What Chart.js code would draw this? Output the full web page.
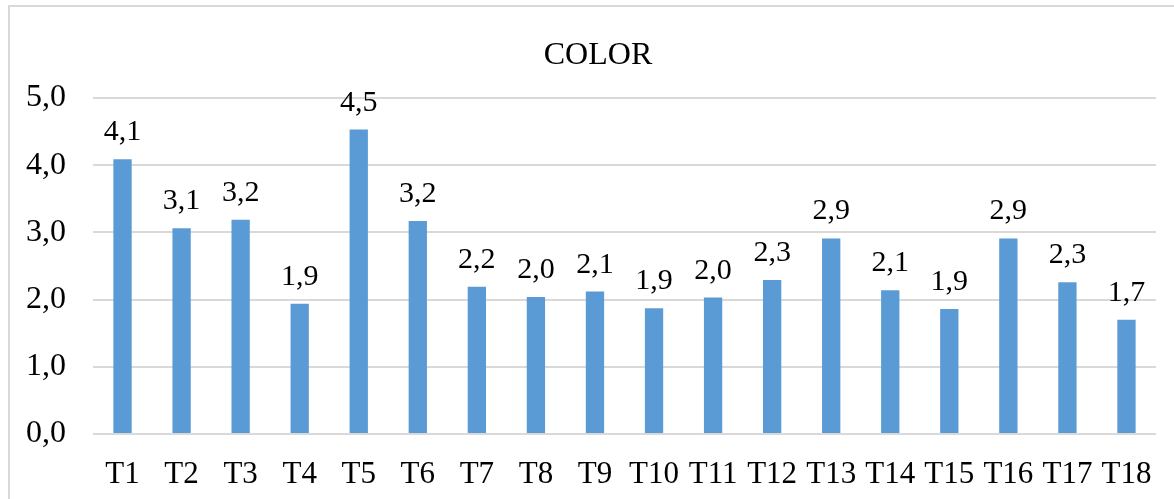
<!DOCTYPE html>
<html>
<head>
<meta charset="utf-8">
<script src="https://cdn.jsdelivr.net/npm/chart.js@4"></script>
<style>
  html, body { margin: 0; padding: 0; background: #fff; overflow: hidden; }
  .frame {
    position: absolute;
    left: 8px;
    top: 5px;
    border: 2px solid #d9d9d9;
    background: #fff;
  }
  canvas { display: block; }
</style>
</head>
<body>
<div class="frame">
  <canvas id="colorChart" width="1176" height="500"></canvas>
</div>
<script>
const FONT_COLOR = "#000000";
const GRID_COLOR = "#d9d9d9";
const BAR_COLOR = "#5b9bd5";
const FONT_FAMILY = "'Liberation Serif', 'Times New Roman', serif";

const chartTitle = "COLOR";
const categories = ["T1", "T2", "T3", "T4", "T5", "T6", "T7", "T8", "T9",
  "T10", "T11", "T12", "T13", "T14", "T15", "T16", "T17", "T18"];
const colorScores = [4.09, 3.06, 3.19, 1.94, 4.53, 3.17, 2.19, 2.04, 2.12,
  1.87, 2.03, 2.29, 2.91, 2.14, 1.86, 2.91, 2.26, 1.70];
const yTicks = [0, 1, 2, 3, 4, 5];

function fmt(v) {
  return v.toFixed(1).replace(".", ",");
}

// title drawn by hand so it sits where the original does
const titlePlugin = {
  id: "titleText",
  afterDraw(chart) {
    const ctx = chart.ctx;
    ctx.save();
    ctx.font = "32px " + FONT_FAMILY;
    ctx.fillStyle = FONT_COLOR;
    ctx.textAlign = "center";
    ctx.textBaseline = "alphabetic";
    ctx.fillText(chartTitle, chart.width / 2, 57);
    ctx.restore();
  },
};

// value labels above each bar
const valueLabels = {
  id: "valueLabels",
  afterDatasetsDraw(chart) {
    const ctx = chart.ctx;
    const meta = chart.getDatasetMeta(0);
    ctx.save();
    ctx.font = "30px " + FONT_FAMILY;
    ctx.fillStyle = FONT_COLOR;
    ctx.textAlign = "center";
    ctx.textBaseline = "alphabetic";
    meta.data.forEach((bar, i) => {
      ctx.fillText(fmt(colorScores[i]), bar.x, bar.y - 19);
    });
    ctx.restore();
  },
};

new Chart(document.getElementById("colorChart"), {
  type: "bar",
  data: {
    labels: categories,
    datasets: [
      {
        label: chartTitle,
        data: colorScores,
        backgroundColor: BAR_COLOR,
        categoryPercentage: 1,
        barPercentage: 0.31,
      },
    ],
  },
  options: {
    responsive: false,
    animation: false,
    layout: { padding: { top: 91, bottom: 0, left: 0, right: 30 } },
    plugins: {
      legend: { display: false },
      tooltip: { enabled: false },
      title: { display: false },
    },
    scales: {
      x: {
        grid: { display: false },
        border: { display: false },
        ticks: {
          color: FONT_COLOR,
          font: { family: FONT_FAMILY, size: 31 },
          padding: 14,
          maxRotation: 0,
          autoSkip: false,
        },
        afterFit(axis) {
          axis.height = 73;
        },
      },
      y: {
        min: 0,
        max: 5,
        afterBuildTicks(axis) {
          axis.ticks = yTicks.map((v) => ({ value: v }));
        },
        grid: { color: GRID_COLOR, lineWidth: 2, drawTicks: false },
        border: { display: false },
        ticks: {
          color: FONT_COLOR,
          font: { family: FONT_FAMILY, size: 32 },
          padding: 27,
          callback: (v) => fmt(v),
        },
        afterFit(axis) {
          axis.width = 83;
        },
      },
    },
  },
  plugins: [titlePlugin, valueLabels],
});
</script>
</body>
</html>
